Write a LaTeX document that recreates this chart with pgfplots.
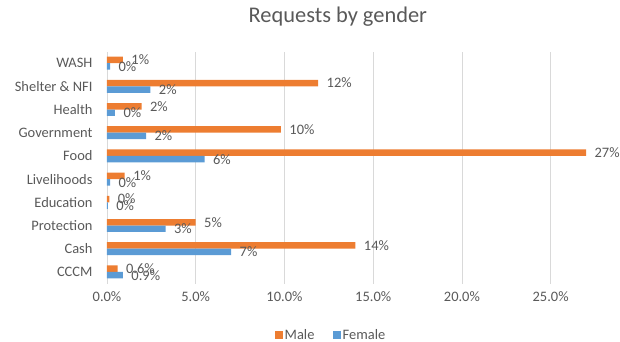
\documentclass[border=0pt]{standalone}
\usepackage{pgfplots}
\pgfplotsset{compat=1.18}
\usepackage{fontspec}
\setmainfont{Carlito}
\definecolor{male}{HTML}{ED7D31}
\definecolor{female}{HTML}{5B9BD5}
\definecolor{txt}{HTML}{595959}
\definecolor{gridc}{HTML}{D9D9D9}
\begin{document}
\begin{tikzpicture}
\path[use as bounding box] (-107bp,-58.5bp) rectangle (513bp,283.5bp);
\begin{axis}[
  scale only axis, width=488bp, height=232bp,
  xbar, bar width=0.28,
  xmin=0, xmax=27.5, ymin=-0.5, ymax=9.5,
  ytick={0,...,9},
  yticklabels={CCCM,Cash,Protection,Education,Livelihoods,Food,Government,Health,Shelter \& NFI,WASH},
  xtick={0,5,10,15,20,25},
  xticklabels={0.0\%,5.0\%,10.0\%,15.0\%,20.0\%,25.0\%},
  xmajorgrids, grid style={gridc, line width=0.75bp},
  axis x line*=bottom, axis y line*=left,
  x axis line style={draw=none}, y axis line style={gridc, line width=0.75bp, -},
  major tick length=0,
  tick label style={font=\fontsize{14.5}{16}\selectfont, text=txt},
  yticklabel style={xshift=-11bp},
  xticklabel style={yshift=-5bp},
  title={Requests by gender},
  title style={at={(0.473,1)}, anchor=center, yshift=28.5bp, font=\fontsize{22.5}{26}\selectfont, text=txt},
  nodes near coords, point meta=explicit symbolic,
  nodes near coords style={font=\fontsize{14.5}{16}\selectfont, text=txt, anchor=west, xshift=5bp},
  legend cell align=left,
  legend style={at={(0.459,-0.222)}, anchor=center, draw=none, fill=none, legend columns=2,
    font=\fontsize{14.5}{16}\selectfont, text=txt},
  legend image code/.code={\fill[#1] (0bp,-4bp) rectangle (8bp,4bp);},
]
\addplot[fill=male, draw=none, bar shift=0.14] coordinates {
  (0.6,0) [0.6\%]
  (14.0,1) [14\%]
  (5.0,2) [5\%]
  (0.13,3) [0\%]
  (1.0,4) [1\%]
  (27.0,5) [27\%]
  (9.8,6) [10\%]
  (1.95,7) [2\%]
  (11.9,8) [12\%]
  (0.9,9) [1\%]
};
\addplot[fill=female, draw=none, bar shift=-0.14] coordinates {
  (0.9,0) [0.9\%]
  (7.0,1) [7\%]
  (3.3,2) [3\%]
  (0.05,3) [0\%]
  (0.17,4) [0\%]
  (5.5,5) [6\%]
  (2.2,6) [2\%]
  (0.45,7) [0\%]
  (2.45,8) [2\%]
  (0.17,9) [0\%]
};
\legend{\makebox[46bp][l]{Male},Female}
\end{axis}
\end{tikzpicture}
\end{document}
